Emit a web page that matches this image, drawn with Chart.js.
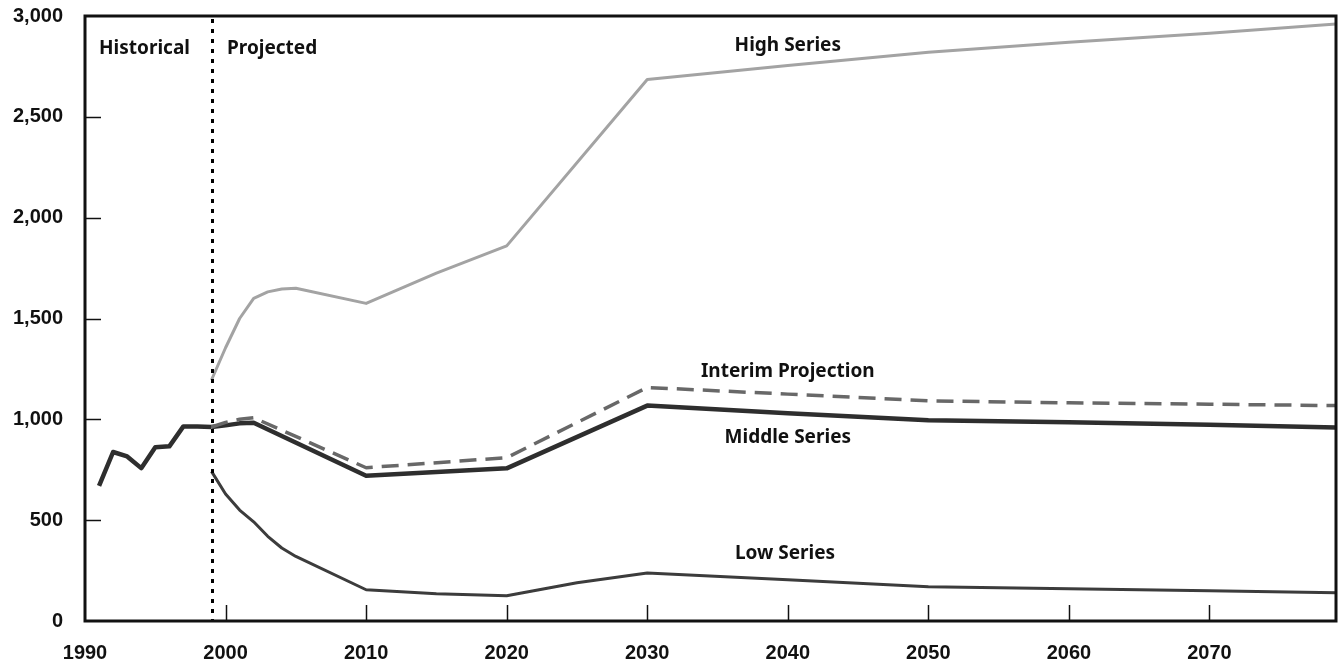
<!DOCTYPE html>
<html>
<head>
<meta charset="utf-8">
<script src="https://cdn.jsdelivr.net/npm/chart.js@4/dist/chart.umd.min.js"></script>
<style>
  html, body { margin: 0; padding: 0; background: #fff; }
  #wrap { width: 1338px; height: 667px; position: relative; }
</style>
</head>
<body>
<div id="wrap"><canvas id="proj"></canvas></div>
<script>
// historical
var histYears = [1991, 1992, 1993, 1994, 1995, 1996, 1997, 1998, 1999];
var histVals  = [670, 838, 816, 758, 862, 866, 965, 964, 962];

// projections
var midYears = [1999, 2000, 2001, 2002, 2010, 2020, 2030, 2040, 2050, 2060, 2070, 2079];
var midVals  = [962, 970, 980, 983, 720, 757, 1068, 1030, 995, 985, 973, 960];

var intYears = [1999, 2000, 2001, 2002, 2010, 2020, 2030, 2040, 2050, 2060, 2070, 2079];
var intVals  = [962, 985, 1000, 1008, 760, 810, 1158, 1125, 1092, 1082, 1075, 1068];

var highYears = [1999, 2000, 2001, 2002, 2003, 2004, 2005, 2010, 2015, 2020, 2030, 2040, 2050, 2060, 2070, 2079];
var highVals  = [1195, 1355, 1500, 1600, 1632, 1646, 1650, 1575, 1725, 1860, 2685, 2755, 2820, 2870, 2915, 2960];

var lowYears = [1999, 2000, 2001, 2002, 2003, 2004, 2005, 2010, 2015, 2020, 2025, 2030, 2040, 2050, 2060, 2070, 2079];
var lowVals  = [742, 630, 550, 492, 420, 362, 320, 155, 135, 125, 190, 238, 205, 170, 160, 150, 140];

var xTicks = [1990, 2000, 2010, 2020, 2030, 2040, 2050, 2060, 2070];
var yTicks = [0, 500, 1000, 1500, 2000, 2500, 3000];
var splitYear = 1999;

var labels = [
  { text: "Historical", x: 1991, y: 2840, align: "left" },
  { text: "Projected", x: 2000.1, y: 2840, align: "left" },
  { text: "High Series", x: 2040, y: 2855, align: "center" },
  { text: "Interim Projection", x: 2040, y: 1235, align: "center" },
  { text: "Middle Series", x: 2040, y: 910, align: "center" },
  { text: "Low Series", x: 2039.8, y: 335, align: "center" }
];

function pts(xs, ys) {
  var out = [];
  for (var i = 0; i < xs.length; i++) out.push({ x: xs[i], y: ys[i] });
  return out;
}

var extras = {
  id: "extras",
  afterDatasetsDraw: function(chart) {
    var c = chart.ctx, xs = chart.scales.x, ys = chart.scales.y, a = chart.chartArea;
    c.save();
    // split line
    var sx = Math.round(xs.getPixelForValue(splitYear)) + 0.5;
    c.strokeStyle = "#000";
    c.lineWidth = 3;
    c.setLineDash([4, 6]);
    c.beginPath();
    c.moveTo(sx, a.top + 3);
    c.lineTo(sx, a.bottom);
    c.stroke();
    c.setLineDash([]);
    // inward tick marks
    c.lineWidth = 1.5;
    c.strokeStyle = "#111";
    xTicks.forEach(function(t) {
      if (t <= xs.min) return;
      var px = Math.round(xs.getPixelForValue(t)) + 0.5;
      c.beginPath(); c.moveTo(px, a.bottom); c.lineTo(px, a.bottom - 16); c.stroke();
    });
    yTicks.forEach(function(t) {
      if (t <= ys.min || t >= ys.max) return;
      var py = Math.round(ys.getPixelForValue(t)) + 0.5;
      c.beginPath(); c.moveTo(a.left, py); c.lineTo(a.left + 16, py); c.stroke();
    });
    // frame
    c.strokeStyle = "#111";
    c.lineWidth = 3;
    c.strokeRect(a.left, a.top, a.right - a.left, a.bottom - a.top);
    // text labels
    c.fillStyle = "#111";
    c.font = "bold 19px 'Noto Sans'";
    c.textBaseline = "middle";
    labels.forEach(function(l) {
      c.textAlign = l.align;
      c.fillText(l.text, xs.getPixelForValue(l.x), ys.getPixelForValue(l.y));
    });
    c.restore();
  }
};

var line = function(data, color, width, dash) {
  return {
    data: data,
    borderColor: color,
    borderWidth: width,
    borderDash: dash || [],
    pointRadius: 0,
    tension: 0,
    fill: false,
    borderCapStyle: "butt",
    borderJoinStyle: "round"
  };
};

new Chart(document.getElementById("proj"), {
  type: "line",
  data: {
    datasets: [
      line(pts(highYears, highVals), "#a3a3a3", 3),
      line(pts(lowYears, lowVals), "#3c3c3c", 3),
      line(pts(intYears, intVals), "#686868", 3.5, [17, 9]),
      line(pts(midYears, midVals), "#2e2e2e", 4.5),
      line(pts(histYears, histVals), "#2e2e2e", 4.5)
    ]
  },
  options: {
    responsive: true,
    maintainAspectRatio: false,
    animation: false,
    layout: { padding: { top: 16, right: 2, left: 0, bottom: 0 } },
    plugins: { legend: { display: false }, tooltip: { enabled: false } },
    scales: {
      x: {
        type: "linear",
        min: 1990,
        max: 2079,
        afterBuildTicks: function(s) { s.ticks = xTicks.map(function(v) { return { value: v }; }); },
        ticks: {
          color: "#111",
          padding: 20,
          maxRotation: 0,
          font: { family: "'Liberation Sans', Arial", size: 20, weight: "bold" },
          callback: function(v) { return String(v); }
        },
        grid: { display: false, drawTicks: false },
        border: { display: false },
        afterFit: function(s) { s.height = 46; s.paddingLeft = 0; s.paddingRight = 0; }
      },
      y: {
        min: 0,
        max: 3000,
        afterBuildTicks: function(s) { s.ticks = yTicks.map(function(v) { return { value: v }; }); },
        ticks: {
          color: "#111",
          padding: 22,
          font: { family: "'Liberation Sans', Arial", size: 20, weight: "bold" },
          callback: function(v) { return v.toLocaleString("en-US"); }
        },
        grid: { display: false, drawTicks: false },
        border: { display: false },
        afterFit: function(s) { s.width = 85; s.paddingTop = 0; s.paddingBottom = 0; }
      }
    }
  },
  plugins: [extras]
});
</script>
</body>
</html>
